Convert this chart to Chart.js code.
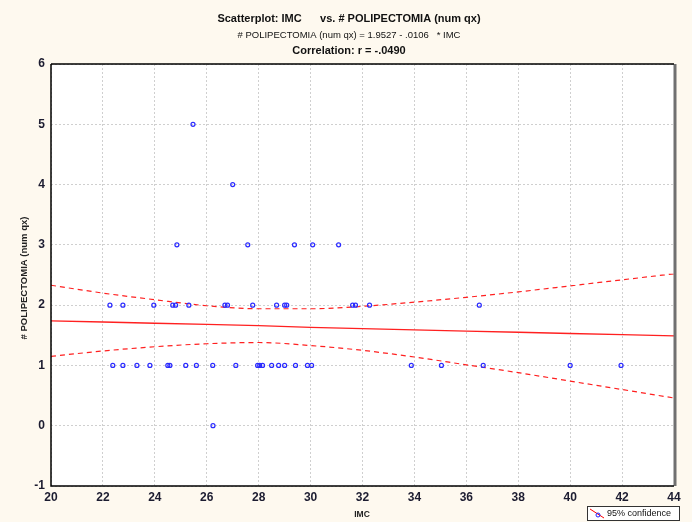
<!DOCTYPE html>
<html>
<head>
<meta charset="utf-8">
<script src="https://cdn.jsdelivr.net/npm/chart.js@4.4.1/dist/chart.umd.min.js"></script>
<style>
html,body{margin:0;padding:0;background:#FEF9EF;}
#wrap{width:692px;height:522px;position:relative;}
</style>
</head>
<body>
<div id="wrap"><canvas id="c" width="692" height="522"></canvas></div>
<script>
// Observed points (IMC, # POLIPECTOMIA)
const imcValues = [
  22.27, 22.77, 23.96, 24.69, 24.8, 25.31, 26.7, 26.8, 27.77, 28.69, 29.0, 29.08, 31.62, 31.73, 32.27, 36.5,
  24.85, 27.58, 29.38, 30.08, 31.08,
  27.0, 25.47, 26.24,
  22.38, 22.77, 23.31, 23.81, 24.5, 24.58, 25.19, 25.6, 26.23, 27.12, 27.96, 28.04, 28.15, 28.5, 28.77, 29.0,
  29.42, 29.88, 30.04, 33.88, 35.04, 36.65, 40.0, 41.96
];
const polipValues = [
  2, 2, 2, 2, 2, 2, 2, 2, 2, 2, 2, 2, 2, 2, 2, 2,
  3, 3, 3, 3, 3,
  4, 5, 0,
  1, 1, 1, 1, 1, 1, 1, 1, 1, 1, 1, 1, 1, 1, 1, 1,
  1, 1, 1, 1, 1, 1, 1, 1
];
// Fitted line and 95% confidence bands
const bandX = [20, 22, 24, 26, 28, 30, 32, 34, 36, 38, 40, 42, 44];
const fitY  = [1.74, 1.72, 1.70, 1.68, 1.66, 1.63, 1.61, 1.59, 1.57, 1.55, 1.53, 1.51, 1.49];
const upperY = [2.33, 2.20, 2.09, 1.99, 1.94, 1.94, 1.98, 2.05, 2.13, 2.22, 2.32, 2.42, 2.52];
const lowerY = [1.15, 1.24, 1.31, 1.36, 1.38, 1.33, 1.25, 1.14, 1.01, 0.88, 0.74, 0.60, 0.46];
const xTicks = [20, 22, 24, 26, 28, 30, 32, 34, 36, 38, 40, 42, 44];
const yTicks = [-1, 0, 1, 2, 3, 4, 5, 6];

const titleMain = "Scatterplot: IMC      vs. # POLIPECTOMIA (num qx)";
const titleSub = "# POLIPECTOMIA (num qx) = 1.9527 - .0106   * IMC";
const titleCorr = "Correlation: r = -.0490";
const xLabel = "IMC";
const yLabel = "# POLIPECTOMIA (num qx)";
const legendLabel = "95% confidence";

const FONT = "Arial, 'Liberation Sans', sans-serif";
const pts = imcValues.map((v, i) => ({x: v, y: polipValues[i]}));
const mk = (ys) => bandX.map((x, i) => ({x: x, y: ys[i]}));

const decor = {
  id: 'decor',
  beforeDraw(chart) {
    const {ctx, chartArea: a} = chart;
    ctx.save();
    ctx.fillStyle = '#FEF9EF';
    ctx.fillRect(0, 0, chart.width, chart.height);
    ctx.fillStyle = '#FFFFFF';
    ctx.fillRect(a.left, a.top, a.right - a.left, a.bottom - a.top);
    ctx.restore();
  },
  afterDraw(chart) {
    const {ctx, chartArea: a} = chart;
    ctx.save();
    // frame
    ctx.strokeStyle = '#707070';
    ctx.lineWidth = 3;
    ctx.beginPath();
    ctx.moveTo(a.right + 1, a.top);
    ctx.lineTo(a.right + 1, a.bottom);
    ctx.stroke();
    ctx.strokeStyle = '#000';
    ctx.lineWidth = 1.5;
    ctx.beginPath();
    ctx.moveTo(a.left, a.top);
    ctx.lineTo(a.right, a.top);
    ctx.moveTo(a.left, a.top);
    ctx.lineTo(a.left, a.bottom);
    ctx.lineTo(a.right, a.bottom);
    ctx.stroke();

    // titles
    ctx.fillStyle = '#111';
    ctx.textAlign = 'center';
    ctx.textBaseline = 'middle';
    ctx.font = 'bold 11px ' + FONT;
    ctx.fillText(titleMain, 349, 19);
    ctx.font = '9.5px ' + FONT;
    ctx.fillText(titleSub, 349, 35);
    ctx.font = 'bold 11px ' + FONT;
    ctx.fillText(titleCorr, 349, 51);

    // axis titles
    ctx.font = 'bold 8.5px ' + FONT;
    ctx.fillStyle = '#222';
    ctx.fillText(xLabel, 362, 515);
    ctx.save();
    ctx.translate(24, 278);
    ctx.rotate(-Math.PI / 2);
    ctx.font = 'bold 9.5px ' + FONT;
    ctx.fillText(yLabel, 0, 0);
    ctx.restore();

    // legend
    ctx.fillStyle = '#FFFFFF';
    ctx.fillRect(587, 506, 92, 14);
    ctx.strokeStyle = '#333';
    ctx.lineWidth = 1;
    ctx.strokeRect(587.5, 506.5, 92, 14);
    ctx.strokeStyle = '#FF0000';
    ctx.lineWidth = 1;
    ctx.beginPath();
    ctx.moveTo(590, 509);
    ctx.lineTo(604, 518);
    ctx.stroke();
    ctx.strokeStyle = '#2222FF';
    ctx.beginPath();
    ctx.arc(598, 515, 2, 0, Math.PI * 2);
    ctx.stroke();
    ctx.fillStyle = '#111';
    ctx.textAlign = 'left';
    ctx.font = '9px ' + FONT;
    ctx.fillText(legendLabel, 607, 514);
    ctx.restore();
  }
};

new Chart(document.getElementById('c'), {
  type: 'scatter',
  data: {
    datasets: [
      {
        data: pts,
        pointStyle: 'circle',
        pointRadius: 2,
        pointBorderWidth: 1.2,
        borderColor: '#2a2aff',
        backgroundColor: 'rgba(255,255,255,0)',
        showLine: false,
        order: 0
      },
      {
        data: mk(fitY),
        showLine: true,
        borderColor: '#FF2020',
        borderWidth: 1.3,
        pointRadius: 0,
        tension: 0,
        order: 1
      },
      {
        data: mk(upperY),
        showLine: true,
        borderColor: '#FF2020',
        borderWidth: 1.2,
        borderDash: [5, 4],
        pointRadius: 0,
        cubicInterpolationMode: 'monotone',
        order: 1
      },
      {
        data: mk(lowerY),
        showLine: true,
        borderColor: '#FF2020',
        borderWidth: 1.2,
        borderDash: [5, 4],
        pointRadius: 0,
        cubicInterpolationMode: 'monotone',
        order: 1
      }
    ]
  },
  options: {
    responsive: false,
    animation: false,
    devicePixelRatio: 1,
    layout: {padding: {left: 0, top: 64, right: 18, bottom: 0}},
    plugins: {legend: {display: false}, tooltip: {enabled: false}, title: {display: false}},
    scales: {
      x: {
        type: 'linear',
        min: 20, max: 44,
        afterBuildTicks: (s) => { s.ticks = xTicks.map(v => ({value: v})); },
        afterFit: (s) => { s.height = 36; },
        grid: {color: '#CFCFCF', lineWidth: 1, drawTicks: false},
        border: {display: false, dash: [2, 2]},
        ticks: {font: {family: FONT, size: 12, weight: 'bold'}, color: '#1c1c30', padding: 4, maxRotation: 0, autoSkip: false}
      },
      y: {
        type: 'linear',
        min: -1, max: 6,
        afterBuildTicks: (s) => { s.ticks = yTicks.map(v => ({value: v})); },
        afterFit: (s) => { s.width = 51; },
        grid: {color: '#CFCFCF', lineWidth: 1, drawTicks: false},
        border: {display: false, dash: [2, 2]},
        ticks: {font: {family: FONT, size: 12, weight: 'bold'}, color: '#1c1c30', padding: 6, autoSkip: false}
      }
    }
  },
  plugins: [decor]
});
</script>
</body>
</html>
